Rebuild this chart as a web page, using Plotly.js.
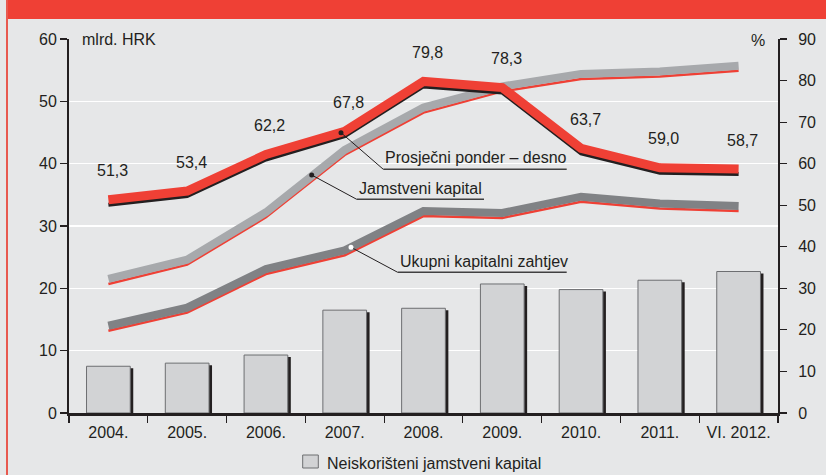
<!DOCTYPE html>
<html>
<head>
<meta charset="utf-8">
<script src="https://cdn.plot.ly/plotly-3.0.1.min.js"></script>
<style>
  html, body { margin: 0; padding: 0; background: #e6e7e8; }
  #frame { position: relative; width: 826px; height: 475px; background: #e6e7e8; overflow: hidden; }
  #topbar { position: absolute; left: 6px; top: 0; width: 820px; height: 19px; background: #ef4035; }
  #leftline { position: absolute; left: 6px; top: 0; width: 1.5px; height: 475px; background: #e8594f; }
  #chart { position: absolute; left: 0; top: 0; width: 826px; height: 475px; }
</style>
</head>
<body>
<div id="frame">
  <div id="topbar"></div>
  <div id="leftline"></div>
  <div id="chart"></div>
</div>
<script>
// ---- data ----
const years = ['2004.', '2005.', '2006.', '2007.', '2008.', '2009.', '2010.', '2011.', 'VI. 2012.'];
const neiskoristeniKapital = [7.5, 8.0, 9.3, 16.5, 16.8, 20.7, 19.8, 21.3, 22.7];   // mlrd. HRK
const jamstveniKapital = [21.5, 24.6, 32.2, 42.2, 49.0, 52.4, 54.4, 54.8, 55.7];      // mlrd. HRK
const ukupniKapitalniZahtjev = [14.0, 16.9, 23.1, 26.1, 32.4, 32.1, 34.7, 33.6, 33.2]; // mlrd. HRK
const prosjecniPonder = [51.3, 53.4, 62.2, 67.8, 79.8, 78.3, 63.7, 59.0, 58.7];      // %, right axis
const leftTicks = [0, 10, 20, 30, 40, 50, 60];
const rightTicks = [0, 10, 20, 30, 40, 50, 60, 70, 80, 90];

// ---- geometry / style ----
const W = 826, H = 475;
const M = { l: 69, r: 48, t: 39, b: 62 };
const plotW = W - M.l - M.r, plotH = H - M.t - M.b;
const pxPerL = plotH / 60, pxPerR = plotH / 90;
const px2x = px => (px - M.l) / plotW;            // paper x
const py2y = py => (H - M.b - py) / plotH;        // paper y
const FONT = 'Liberation Sans, Arial, Helvetica, sans-serif';
const INK = '#231f20';
const RED = '#ef4035';
const barW = 0.555;

const shift = (arr, px, per) => arr.map(v => v - px / per);

const traces = [
  // bar shadow
  { type: 'bar', x: years, y: shift(neiskoristeniKapital, 2, pxPerL), width: barW,
    offset: -barW / 2 + 3 / (plotW / 9), marker: { color: INK, line: { width: 0 } },
    hoverinfo: 'skip', showlegend: false },
  { type: 'bar', x: years, y: neiskoristeniKapital, width: barW, offset: -barW / 2,
    name: 'Neiskorišteni jamstveni kapital',
    marker: { color: '#d2d3d5', line: { color: '#6d6e71', width: 1 } }, showlegend: false },
  // Ukupni kapitalni zahtjev
  { type: 'scatter', mode: 'lines', x: years, y: shift(ukupniKapitalniZahtjev, 5, pxPerL),
    line: { color: RED, width: 2.5 }, hoverinfo: 'skip', showlegend: false },
  { type: 'scatter', mode: 'lines', x: years, y: ukupniKapitalniZahtjev, name: 'Ukupni kapitalni zahtjev',
    line: { color: '#808285', width: 8 }, showlegend: false },
  // Jamstveni kapital
  { type: 'scatter', mode: 'lines', x: years, y: shift(jamstveniKapital, 5, pxPerL),
    line: { color: RED, width: 2.5 }, hoverinfo: 'skip', showlegend: false },
  { type: 'scatter', mode: 'lines', x: years, y: jamstveniKapital, name: 'Jamstveni kapital',
    line: { color: '#a7a9ac', width: 8 }, showlegend: false },
  // Prosječni ponder (right axis)
  { type: 'scatter', mode: 'lines', x: years, y: shift(prosjecniPonder, 5, pxPerR), yaxis: 'y2',
    line: { color: INK, width: 4 }, hoverinfo: 'skip', showlegend: false },
  { type: 'scatter', mode: 'lines', x: years, y: prosjecniPonder, yaxis: 'y2', name: 'Prosječni ponder – desno',
    line: { color: RED, width: 9 }, showlegend: false }
];

const annotations = [];
const txt = (extra) => Object.assign({ showarrow: false, font: { family: FONT, size: 16, color: INK } }, extra);

// value labels of the ponder series (x given as category index)
prosjecniPonder.forEach((v, i) => {
  annotations.push(txt({ x: i, y: v, xref: 'x', yref: 'y2', xshift: 4, yshift: 29,
    text: v.toFixed(1).replace('.', ','), xanchor: 'center', yanchor: 'middle' }));
});

// axis unit labels
annotations.push(txt({ xref: 'paper', yref: 'paper', x: px2x(80), y: py2y(39), xanchor: 'left', yanchor: 'middle', text: 'mlrd. HRK' }));
annotations.push(txt({ xref: 'paper', yref: 'paper', x: px2x(767), y: py2y(40), xanchor: 'right', yanchor: 'middle', text: '%' }));

// callouts (pixel positions converted to paper)
const callouts = [
  { dot: [341, 132.7], elbow: [383.3, 169.3], end: 566.7, textY: 157.5, text: 'Prosječni ponder – desno', dotColor: INK },
  { dot: [311.7, 175], elbow: [356.7, 199.3], end: 484, textY: 188, text: 'Jamstveni kapital', dotColor: INK },
  { dot: [351, 247.3], elbow: [397.7, 272.3], end: 566.7, textY: 261, text: 'Ukupni kapitalni zahtjev', dotColor: '#ffffff' }
];
const shapes = [];
callouts.forEach(c => {
  shapes.push({ type: 'line', xref: 'paper', yref: 'paper', x0: px2x(c.dot[0]), y0: py2y(c.dot[1]),
    x1: px2x(c.elbow[0]), y1: py2y(c.elbow[1]), line: { color: INK, width: 1 } });
  shapes.push({ type: 'line', xref: 'paper', yref: 'paper', x0: px2x(c.elbow[0]), y0: py2y(c.elbow[1]),
    x1: px2x(c.end), y1: py2y(c.elbow[1]), line: { color: '#404041', width: 1.5 } });
  shapes.push({ type: 'circle', xref: 'paper', yref: 'paper', xsizemode: 'pixel', ysizemode: 'pixel',
    xanchor: px2x(c.dot[0]), yanchor: py2y(c.dot[1]), x0: -2.5, x1: 2.5, y0: -2.5, y1: 2.5,
    fillcolor: c.dotColor, line: { width: 0 } });
  annotations.push(txt({ xref: 'paper', yref: 'paper', x: px2x(c.elbow[0]), y: py2y(c.textY),
    xanchor: 'left', yanchor: 'middle', text: c.text }));
});

// legend (manual)
shapes.push({ type: 'rect', xref: 'paper', yref: 'paper', x0: px2x(302.7), x1: px2x(318.3),
  y0: py2y(468), y1: py2y(455), fillcolor: '#d2d3d5', line: { color: '#6d6e71', width: 1 } });
annotations.push(txt({ xref: 'paper', yref: 'paper', x: px2x(325), y: py2y(463), xanchor: 'left', yanchor: 'middle',
  text: 'Neiskorišteni jamstveni kapital' }));

const layout = {
  width: W, height: H, margin: M,
  paper_bgcolor: 'rgba(0,0,0,0)', plot_bgcolor: '#e6e7e8',
  font: { family: FONT, size: 16, color: INK },
  barmode: 'overlay', showlegend: false,
  xaxis: {
    type: 'category', categoryorder: 'array', categoryarray: years, range: [-0.5, 8.5],
    tickson: 'boundaries', ticks: 'outside', ticklen: 7, tickwidth: 1.2, tickcolor: INK,
    showline: true, linecolor: INK, linewidth: 2.5, showgrid: false, zeroline: false,
    ticklabelstandoff: 3,
    tickfont: { family: FONT, size: 16, color: INK }, fixedrange: true
  },
  yaxis: {
    range: [0, 60], tickvals: leftTicks, ticktext: leftTicks.map(String),
    ticks: 'outside', ticklen: 7, tickwidth: 1.2, tickcolor: INK,
    showline: true, linecolor: INK, linewidth: 2, showgrid: true, gridcolor: '#ffffff', gridwidth: 1.6,
    zeroline: false, tickfont: { family: FONT, size: 16, color: INK }, fixedrange: true
  },
  yaxis2: {
    overlaying: 'y', side: 'right', range: [0, 90], tickvals: rightTicks, ticktext: rightTicks.map(String),
    ticks: 'outside', ticklen: 7, tickwidth: 1.2, tickcolor: INK,
    showline: true, linecolor: INK, linewidth: 2, showgrid: false, zeroline: false,
    ticklabelstandoff: 8,
    tickfont: { family: FONT, size: 16, color: INK }, fixedrange: true
  },
  shapes: shapes,
  annotations: annotations
};

Plotly.newPlot('chart', traces, layout, { displayModeBar: false, staticPlot: true });
</script>
</body>
</html>
